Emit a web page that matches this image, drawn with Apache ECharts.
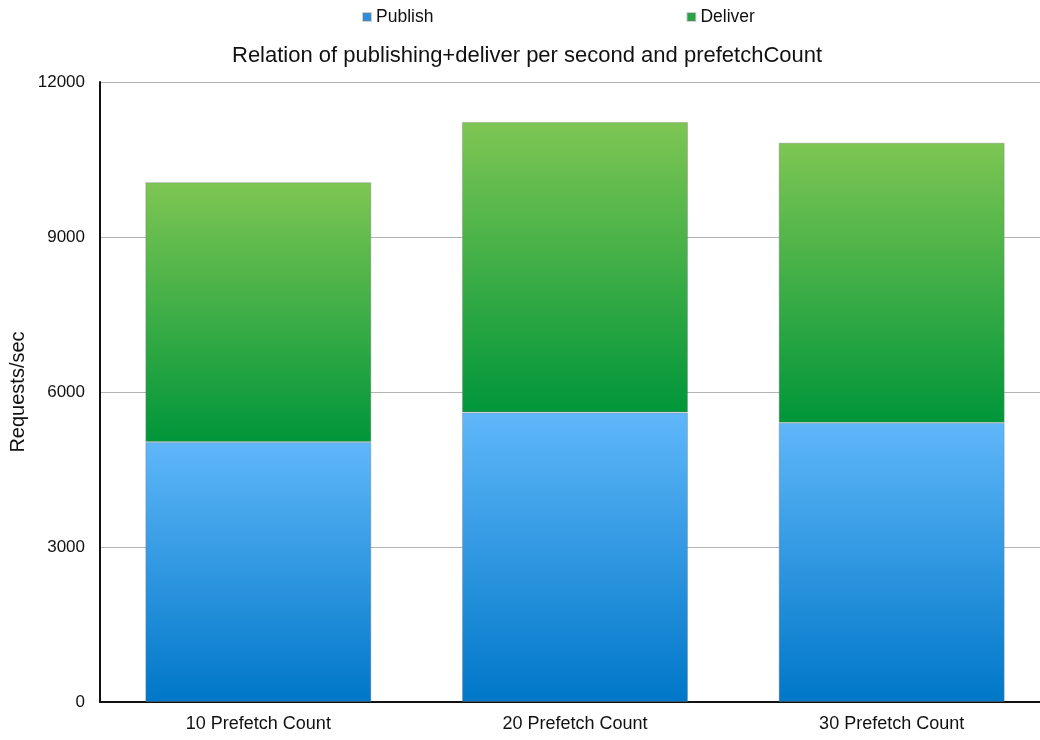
<!DOCTYPE html>
<html>
<head>
<meta charset="utf-8">
<script src="https://cdn.jsdelivr.net/npm/echarts@6/dist/echarts.min.js"></script>
<style>
  html, body { margin: 0; padding: 0; background: #fff; }
  #chart { width: 1040px; height: 740px; }
</style>
</head>
<body>
<div id="chart"></div>
<script>
// Throughput per prefetchCount setting, stacked publish + deliver
var categories = ['10 Prefetch Count', '20 Prefetch Count', '30 Prefetch Count'];
var publishValues = [5030, 5605, 5405];
var deliverValues = [5030, 5620, 5420];
var yTicks = { min: 0, max: 12000, interval: 3000 };

var FONT = '"Liberation Sans", Arial, Helvetica, sans-serif';

function grad(top, bottom) {
  return new echarts.graphic.LinearGradient(0, 0, 0, 1, [
    { offset: 0, color: top },
    { offset: 1, color: bottom }
  ]);
}

var chart = echarts.init(document.getElementById('chart'), null, { renderer: 'canvas' });

chart.setOption({
  animation: false,
  backgroundColor: '#ffffff',
  title: {
    text: 'Relation of publishing+deliver per second and prefetchCount',
    left: 227,
    top: 40,
    textStyle: { fontFamily: FONT, fontSize: 22, fontWeight: 'normal', color: '#111' }
  },
  legend: {
    left: 357,
    top: 3,
    itemWidth: 8,
    itemHeight: 8,
    itemGap: 253,
    icon: 'rect',
    textStyle: { fontFamily: FONT, fontSize: 17.5, color: '#111' },
    data: [
      { name: 'Publish', itemStyle: { color: '#2b8fe0' } },
      { name: 'Deliver', itemStyle: { color: '#26a643' } }
    ]
  },
  grid: { left: 100, top: 82, width: 950, bottom: 38, outerBoundsMode: 'none' },
  xAxis: {
    type: 'category',
    data: categories,
    axisLine: { lineStyle: { color: '#111', width: 2 } },
    axisTick: { show: false },
    axisLabel: { fontFamily: FONT, fontSize: 18, color: '#111', margin: 13 }
  },
  yAxis: {
    type: 'value',
    min: yTicks.min,
    max: yTicks.max,
    interval: yTicks.interval,
    axisLine: { show: true, lineStyle: { color: '#111', width: 2 } },
    axisTick: { show: false },
    axisLabel: {
      fontFamily: FONT, fontSize: 17, color: '#111', margin: 15,
      formatter: function (v) { return String(v); }
    },
    splitLine: { lineStyle: { color: '#b4b4b4', width: 1 } }
  },
  graphic: [{
    type: 'text',
    x: 18,
    y: 392,
    rotation: Math.PI / 2,
    style: {
      text: 'Requests/sec',
      fontFamily: FONT,
      fontSize: 20,
      fill: '#111',
      align: 'center',
      verticalAlign: 'middle'
    }
  }],
  series: [
    {
      name: 'Publish',
      type: 'bar',
      stack: 'total',
      barWidth: 226,
      data: publishValues,
      itemStyle: {
        color: grad('#5fb7f9', '#0077c8'),
        borderColor: 'rgba(120,120,120,0.35)',
        borderWidth: 1
      }
    },
    {
      name: 'Deliver',
      type: 'bar',
      stack: 'total',
      barWidth: 226,
      data: deliverValues,
      itemStyle: {
        color: grad('#7ec653', '#00963a'),
        borderColor: 'rgba(120,120,120,0.35)',
        borderWidth: 1
      }
    }
  ]
});
</script>
</body>
</html>
